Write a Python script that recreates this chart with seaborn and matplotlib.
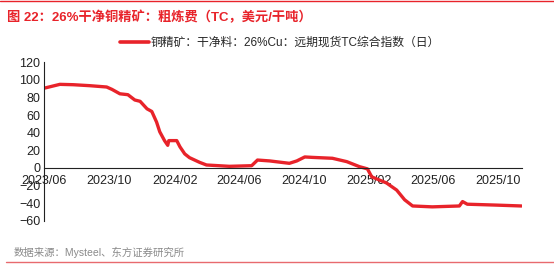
import matplotlib
matplotlib.use("Agg")
import matplotlib.pyplot as plt
import matplotlib.dates as mdates
from matplotlib.lines import Line2D
import seaborn as sns
import pandas as pd

# ---- data ----
dates = ["2023-06-02", "2023-06-30", "2023-07-25", "2023-08-25", "2023-09-26",
         "2023-10-06", "2023-10-21", "2023-11-05", "2023-11-18", "2023-11-28",
         "2023-12-11", "2023-12-20", "2023-12-29", "2024-01-04", "2024-01-13",
         "2024-01-19", "2024-01-21", "2024-02-05", "2024-02-11", "2024-02-20",
         "2024-02-29", "2024-03-19", "2024-04-01", "2024-05-14", "2024-06-25",
         "2024-07-06", "2024-07-29", "2024-09-04", "2024-09-18", "2024-10-03",
         "2024-10-18", "2024-11-24", "2024-12-21", "2025-01-14", "2025-01-29",
         "2025-02-06", "2025-03-06", "2025-03-25", "2025-04-09", "2025-04-24",
         "2025-05-31", "2025-07-21", "2025-07-27", "2025-08-05", "2025-09-28",
         "2025-11-15"]
tc_values = [90.6, 94.7, 94.3, 93.2, 91.7,
             89.0, 84.0, 83.0, 77.0, 75.5,
             67.0, 64.0, 52.0, 41.0, 31.0,
             25.7, 31.0, 31.0, 24.0, 16.0,
             11.7, 6.4, 3.4, 1.9, 2.6,
             9.0, 8.0, 5.3, 8.0, 12.5,
             12.0, 11.0, 7.2, 1.5, -1.0,
             -10.0, -17.0, -25.0, -36.0, -43.0,
             -44.0, -43.0, -38.0, -41.0, -42.0,
             -43.0]
series_name = "铜精矿：干净料：26%Cu：远期现货TC综合指数（日）"
title_text = "图 22：26%干净铜精矿：粗炼费（TC，美元/干吨）"
source_text = "数据来源：Mysteel、东方证券研究所"
y_ticks = [-60, -40, -20, 0, 20, 40, 60, 80, 100, 120]
x_tick_dates = ["2023-06-01", "2023-10-01", "2024-02-01", "2024-06-01",
                "2024-10-01", "2025-02-01", "2025-06-01", "2025-10-01"]

df = pd.DataFrame({"date": pd.to_datetime(dates), "value": tc_values})

sns.set_style("white")
plt.rcParams["font.family"] = ["Liberation Sans", "Noto Sans CJK SC", "DejaVu Sans"]
mixed = ["Liberation Sans", "Noto Sans CJK SC", "DejaVu Sans"]

RED = "#E8232A"

fig = plt.figure(figsize=(5.54, 2.66), dpi=100)
ax = fig.add_axes([0.0803, 0.1692, 0.862, 0.5977])

sns.lineplot(data=df, x="date", y="value", ax=ax, color=RED, linewidth=2.4, legend=False)

ax.set_xlim(pd.Timestamp("2023-06-01"), pd.Timestamp("2025-11-16"))
ax.set_ylim(-60, 120)
ax.set_yticks(y_ticks)
ax.set_xticks(pd.to_datetime(x_tick_dates))
ax.xaxis.set_major_formatter(mdates.DateFormatter("%Y/%m"))
ax.set_xlabel("")
ax.set_ylabel("")

for s in ["top", "right"]:
    ax.spines[s].set_visible(False)
ax.spines["bottom"].set_position(("data", 0))
ax.spines["bottom"].set_color("#222222")
ax.spines["left"].set_color("#222222")
ax.spines["bottom"].set_linewidth(0.8)
ax.spines["left"].set_linewidth(0.8)
ax.tick_params(axis="x", direction="out", length=3, width=0.8, color="#222222",
               labelsize=9, labelcolor="#222222", pad=2)
ax.tick_params(axis="y", direction="in", length=3, width=0.8, color="#222222",
               labelsize=9, labelcolor="#222222", pad=3)
ax.grid(False)

# legend
handle = Line2D([0], [0], color=RED, linewidth=2.6)
fig.legend([handle], [series_name], loc="center", bbox_to_anchor=(0.505, 0.838),
           frameon=False, handlelength=2.5, handletextpad=0.15,
           prop={"family": mixed, "size": 8.5})

# title and source
fig.text(0.012, 0.935, title_text, color=RED, fontsize=9.5, fontweight="bold",
         family=mixed, ha="left", va="center")
fig.text(0.024, 0.053, source_text, color="#8a8a8a", fontsize=7.5,
         family=mixed, ha="left", va="center")

# decorative red rules
fig.add_artist(Line2D([0.0, 1.0], [0.995, 0.995], color=RED, linewidth=1.0,
                      transform=fig.transFigure))
fig.add_artist(Line2D([0.01, 1.0], [0.015, 0.015], color="#E86A6E", linewidth=1.0,
                      transform=fig.transFigure))

fig.savefig("out.png", dpi=100, facecolor="white")
